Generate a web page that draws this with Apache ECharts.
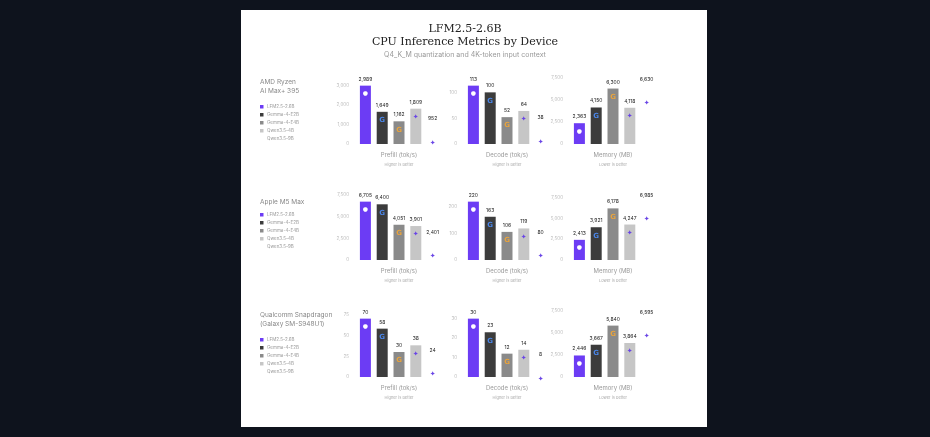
<!DOCTYPE html>
<html>
<head>
<meta charset="UTF-8">
<script src="https://cdn.jsdelivr.net/npm/echarts@6/dist/echarts.min.js"></script>
<style>
  html, body { margin: 0; padding: 0; background: #0e131d; }
  #chart { width: 930px; height: 437px; }
</style>
</head>
<body>
<div id="chart"></div>
<script>
// Data
const models = ['LFM2.5-2.6B', 'Gemma-4-E2B', 'Gemma-4-E4B', 'Qwen3.5-4B', 'Qwen3.5-9B'];
const modelColors = ['#6c3cf4', '#3c3c3c', '#8a8a8a', '#c6c6c6', '#ffffff'];
const devices = ['AMD Ryzen\nAI Max+ 395', 'Apple M5 Max', 'Qualcomm Snapdragon\n(Galaxy SM-S948U1)'];
const metrics = ['Prefill (tok/s)', 'Decode (tok/s)', 'Memory (MB)'];
const hints = ['Higher is better', 'Higher is better', 'Lower is better'];

const amdPrefill = [2989, 1649, 1162, 1809, 952];
const amdDecode = [113, 100, 52, 64, 38];
const amdMemory = [2363, 4150, 6300, 4118, 6630];
const applePrefill = [6705, 6400, 4051, 3901, 2401];
const appleDecode = [220, 163, 106, 119, 80];
const appleMemory = [2413, 3921, 6178, 4247, 6985];
const qcPrefill = [70, 58, 30, 38, 24];
const qcDecode = [30, 23, 12, 14, 8];
const qcMemory = [2446, 3667, 5840, 3864, 6595];

const values = [
  [amdPrefill, amdDecode, amdMemory],
  [applePrefill, appleDecode, appleMemory],
  [qcPrefill, qcDecode, qcMemory]
];
const intervals = [
  [1000, 50, 2500],
  [2500, 100, 2500],
  [25, 10, 2500]
];

// layout
const rowZero = [144, 260, 377];
const plotH = 66;
const colLeft = [357, 465, 571];
const colW = 84;
const iconTxt = ['●', 'G', 'G', '✦', '✦'];
const iconColor = ['#ffffff', '#4a86e8', '#e8a33c', '#6a46e6', '#6a46e6'];

const grids = [], xAxes = [], yAxes = [], series = [], graphics = [];
graphics.push({ type: 'rect', shape: { x: 241, y: 10, width: 466, height: 417 }, style: { fill: '#ffffff' }, z: -10 });
graphics.push({ type: 'text', left: 'center', top: 24, style: { text: 'LFM2.5-2.6B', font: '11px "DejaVu Serif"', fill: '#222' } });
graphics.push({ type: 'text', left: 'center', top: 37, style: { text: 'CPU Inference Metrics by Device', font: '11px "DejaVu Serif"', fill: '#222' } });
graphics.push({ type: 'text', left: 'center', top: 51, style: { text: 'Q4_K_M quantization and 4K-token input context', font: '7px Inter', fill: '#999' } });

let k = 0;
for (let r = 0; r < 3; r++) {
  const legTop = r === 0 ? 105 : (r === 1 ? 213 : 338);
  graphics.push({ type: 'text', left: 260, top: r === 1 ? 198 : rowZero[r] - 66, style: { text: devices[r], font: '6.5px Inter', fill: '#888', lineHeight: 9 } });
  models.forEach((m, i) => {
    graphics.push({ type: 'rect', shape: { x: 260, y: legTop + i * 8, width: 3.5, height: 3.5 }, style: { fill: modelColors[i] } });
    graphics.push({ type: 'text', left: 267, top: legTop + i * 8 - 0.5, style: { text: m, font: '4.5px Inter', fill: '#999' } });
  });
  for (let c = 0; c < 3; c++) {
    const data = values[r][c];
    const dmax = Math.max(...data);
    const iv = intervals[r][c];
    grids.push({ left: colLeft[c], top: rowZero[r] - plotH, width: colW, height: plotH });
    xAxes.push({ gridIndex: k, type: 'category', data: models, axisLine: { show: false }, axisTick: { show: false }, axisLabel: { show: false } });
    yAxes.push({
      gridIndex: k, type: 'value', min: 0, max: Math.max(dmax * 1.131, c === 2 ? 7500 : 0), interval: iv,
      splitLine: { show: false }, axisLine: { show: false }, axisTick: { show: false },
      axisLabel: {
        fontSize: 4.5, color: '#bbb', fontFamily: 'Inter', margin: 8,
        formatter: v => (Math.abs(v / iv - Math.round(v / iv)) < 1e-6 ? Math.round(v).toLocaleString('en-US') : '')
      }
    });
    series.push({
      type: 'bar', xAxisIndex: k, yAxisIndex: k, barWidth: 11, animation: false,
      data: data.map((v, i) => ({ value: v, itemStyle: { color: modelColors[i] } })),
      label: { show: true, position: 'top', distance: 4, fontSize: 5, color: '#222', fontFamily: 'Inter', formatter: p => p.value.toLocaleString('en-US') }
    });
    series.push({
      type: 'bar', xAxisIndex: k, yAxisIndex: k, barWidth: 11, barGap: '-100%', animation: false, silent: true,
      data: data.map((v, i) => ({ value: v, itemStyle: { color: 'rgba(0,0,0,0)' },
        label: { color: iconColor[i], fontWeight: i === 1 || i === 2 ? 'bold' : 'normal', fontSize: i === 0 ? 6 : 7, distance: i === 4 ? 14 : 5 } })),
      label: { show: true, position: 'insideTop', fontFamily: 'DejaVu Sans', formatter: p => iconTxt[p.dataIndex] }
    });
    graphics.push({ type: 'text', x: colLeft[c] + colW / 2, y: rowZero[r] + 8, style: { text: metrics[c], font: '6px Inter', fill: '#999', align: 'center' } });
    graphics.push({ type: 'text', x: colLeft[c] + colW / 2, y: rowZero[r] + 19, style: { text: hints[c], font: '4px Inter', fill: '#aaa', align: 'center' } });
    k++;
  }
}

const chart = echarts.init(document.getElementById('chart'));
chart.setOption({ backgroundColor: '#0e131d', grid: grids, xAxis: xAxes, yAxis: yAxes, series, graphic: graphics });
</script>
</body>
</html>
